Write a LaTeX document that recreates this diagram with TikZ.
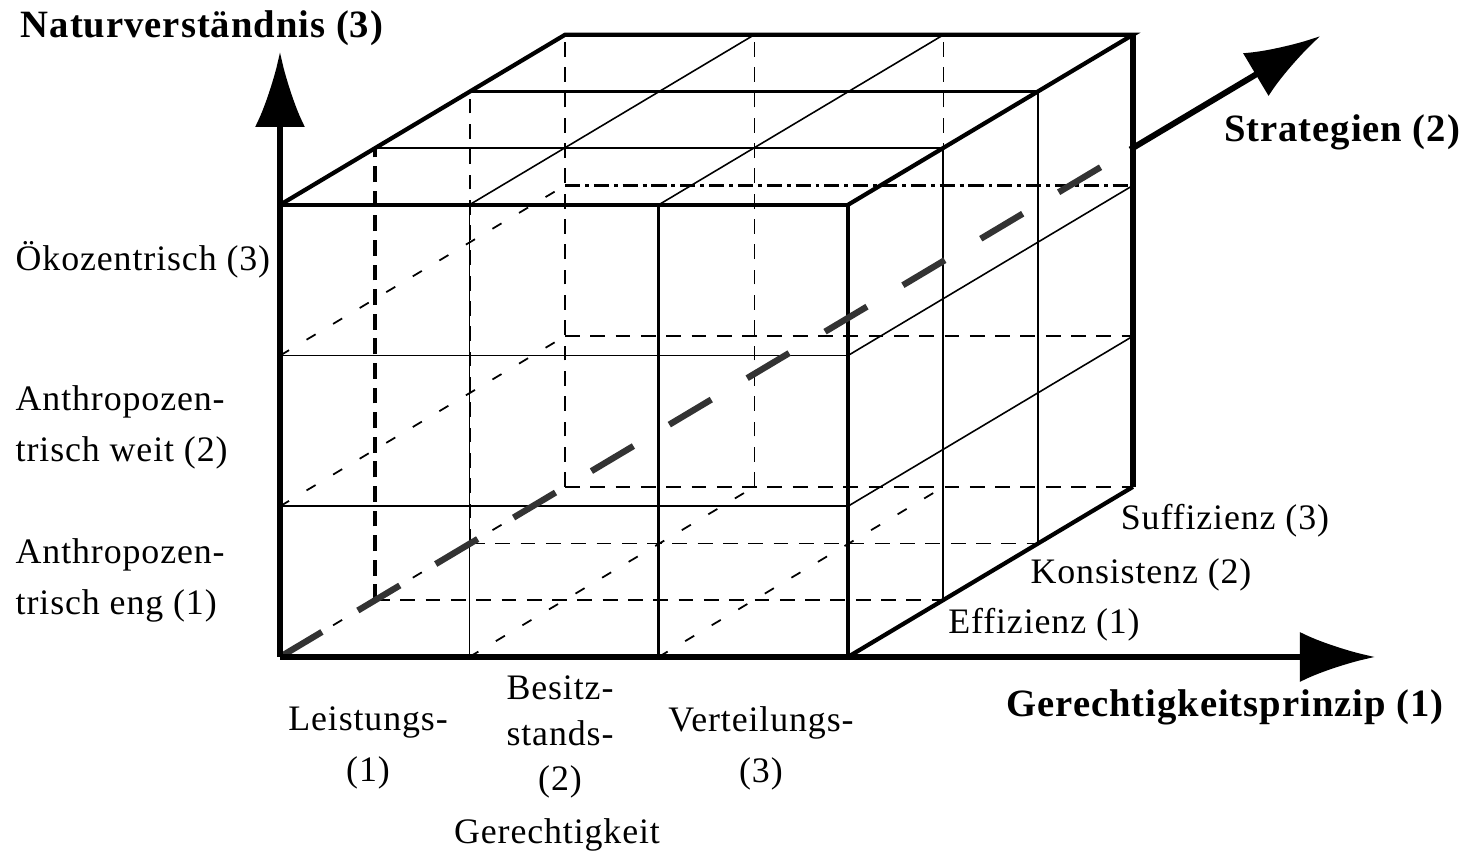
\documentclass[tikz,border=0pt]{standalone}
\usepackage{fontspec}
\setmainfont{Liberation Serif}[LetterSpace=2.5]
\usetikzlibrary{arrows.meta}

\begin{document}
\begin{tikzpicture}[>={Latex[length=7.5mm,width=5mm]},
  cubeedge/.style={line width=1.2pt},
  cubemid/.style={line width=1pt},
  gridline/.style={line width=0.45pt},
  hidden/.style={line width=0.45pt,dash pattern=on 4.2pt off 3pt},
  hiddendiag/.style={line width=0.5pt,dash pattern=on 3pt off 5.8pt},
  hiddenbold/.style={line width=1.1pt,dash pattern=on 4.5pt off 2.5pt},
  dashdotline/.style={line width=0.9pt,dash pattern=on 4.3pt off 1.4pt on 1.1pt off 1.4pt},
  axisline/.style={line width=1.7pt},
  stratdash/.style={line width=1.8pt,black!80,dash pattern=on 13.9pt off 11.9pt},
  lbl/.style={font=\fontsize{10.2}{14.5}\selectfont,inner sep=0pt},
  axislbl/.style={font=\fontsize{11}{13}\selectfont\bfseries,inner sep=0pt}]
\useasboundingbox (-2.80,-2.01) rectangle (11.88,6.57);

% cube: x = Gerechtigkeit, y = Naturverstaendnis, z = Strategien
\begin{scope}[x={(1.893cm,0cm)},y={(0cm,1.507cm)},z={(0.95cm,0.567cm)}]
\coordinate (o) at (0,0,0);
\coordinate (zbreak) at (0,0,8.95);
\coordinate (zend) at (0,0,10.95);

% hidden lines
\draw[hidden] (0,0,3) -- (0,3,3);
\draw[hidden] (1,0,3) -- (1,3,3);
\draw[hidden] (2,0,3) -- (2,3,3);
\draw[hidden] (0,0,2) -- (0,3,2);
\draw[hidden] (0,0,3) -- (3,0,3);
\draw[hidden] (0,1,3) -- (3,1,3);
\draw[hidden] (0,0,1) -- (3,0,1);
\draw[hidden] (0,0,2) -- (3,0,2);
\draw[hiddenbold] (0,0,1) -- (0,3,1);
\draw[dashdotline] (0,2,3) -- (3,2,3);
\draw[hiddendiag] (0,0,0) -- (0,0,3);
\draw[hiddendiag] (0,1,0) -- (0,1,3);
\draw[hiddendiag] (0,2,0) -- (0,2,3);
\draw[hiddendiag] (1,0,0) -- (1,0,3);
\draw[hiddendiag] (2,0,0) -- (2,0,3);

% front
\draw[gridline] (1,0,0) -- (1,3,0);
\draw[gridline] (0,1,0) -- (3,1,0);
\draw[gridline] (0,2,0) -- (3,2,0);
\draw[cubemid] (2,0,0) -- (2,3,0);
\draw[cubemid] (3,0,0) -- (3,3,0);
\draw[cubeedge] (0,3,0) -- (3,3,0);

% top
\draw[gridline] (1,3,0) -- (1,3,3);
\draw[gridline] (2,3,0) -- (2,3,3);
\draw[gridline] (0,3,1) -- (3,3,1);
\draw[cubemid] (0,3,2) -- (3,3,2);
\draw[cubeedge] (0,3,0) -- (0,3,3) -- (3,3,3) -- (3,3,0);

% right
\draw[gridline] (3,0,1) -- (3,3,1);
\draw[gridline] (3,0,2) -- (3,3,2);
\draw[gridline] (3,1,0) -- (3,1,3);
\draw[gridline] (3,2,0) -- (3,2,3);
\draw[cubeedge] (3,0,0) -- (3,0,3);
\draw[axisline] (3,0,3) -- (3,3,3);
\end{scope}

% axes
\coordinate (xend) at (10.95,0);
\coordinate (yend) at (0,6.05);
\draw[stratdash] (o) -- (zbreak);
\draw[axisline,->] (zbreak) -- (zend);
\draw[axisline,->] (o) -- (xend);
\draw[axisline,->] (o) -- (yend);

\node[axislbl] (natur) at (-0.78,6.29) {Naturverständnis (3)};
\node[axislbl] (strat) at (10.62,5.25) {Strategien (2)};
\node[axislbl] (gerecht) at (9.45,-0.50) {Gerechtigkeitsprinzip (1)};

\node[lbl,anchor=west] (oeko) at (-2.65,3.97) {Ökozentrisch (3)};
\node[lbl,anchor=west,align=left] (weit) at (-2.65,2.30) {Anthropozen-\\trisch weit (2)};
\node[lbl,anchor=west,align=left] (eng) at (-2.65,0.77) {Anthropozen-\\trisch eng (1)};

\node[lbl] (suff) at (9.45,1.36) {Suffizienz (3)};
\node[lbl] (kons) at (8.61,0.82) {Konsistenz (2)};
\node[lbl] (eff) at (7.64,0.32) {Effizienz (1)};

\node[lbl,align=center] (leist) at (0.88,-0.91) {Leistungs-\\(1)};
\node[lbl,align=center,font=\fontsize{10.2}{13}\selectfont] (besitz) at (2.80,-0.80) {Besitz-\\stands-\\(2)};
\node[lbl,align=center] (verteil) at (4.81,-0.91) {Verteilungs-\\(3)};
\node[lbl] (gerechtigkeit) at (2.77,-1.78) {Gerechtigkeit};
\end{tikzpicture}
\end{document}
